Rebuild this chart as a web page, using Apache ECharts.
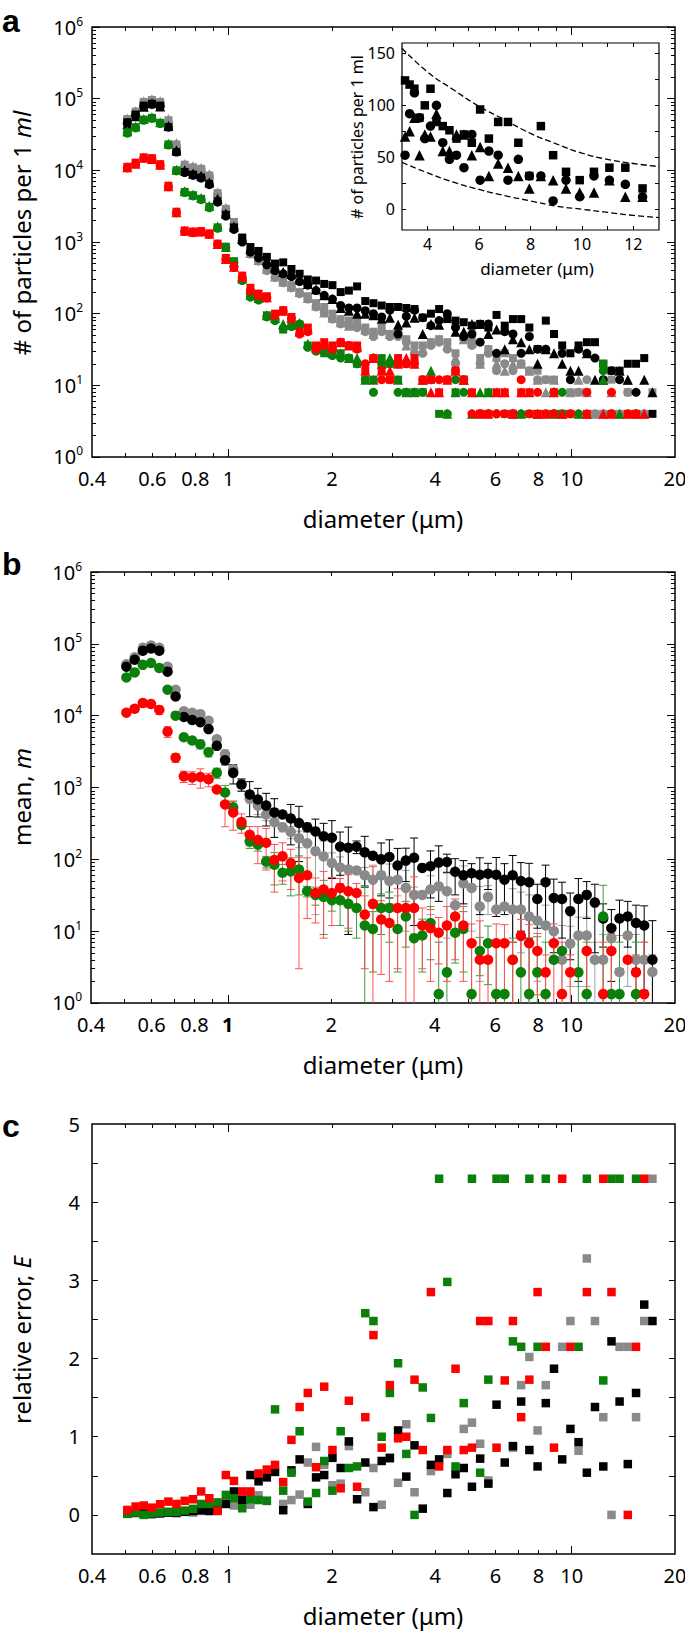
<!DOCTYPE html>
<html><head><meta charset="utf-8">
<script src="https://cdn.jsdelivr.net/npm/echarts@6/dist/echarts.min.js"></script>
<style>html,body{margin:0;padding:0;background:#fff}#c{width:685px;height:1631px}</style>
</head><body><div id="c"></div>
<script>
// ---------------- DATA ----------------
const diameters = [
 0.507,0.536,0.566,0.598,0.632,0.668,0.705,0.745,0.788,0.832,0.879,0.929,0.982,
 1.037,1.096,1.158,1.223,1.293,1.366,1.443,1.525,1.611,1.702,1.799,1.900,2.008,
 2.122,2.242,2.369,2.503,2.644,2.794,2.952,3.119,3.296,3.483,3.680,3.888,4.108,
 4.340,4.586,4.846,5.120,5.410,5.716,6.039,6.381,6.742,7.124,7.527,7.953,8.404,
 8.880,9.382,9.914,10.47,11.07,11.69,12.36,13.06,13.79,14.57,15.40,16.27,17.19];

// panel a: particles per ml, three replicates (square, circle, triangle) per sample colour
const blackSquares = [47000,60000,80000,85000,80000,40000,18000,9500,8700,8000,6500,3700,2400,
 1600,1150,850,750,620,500,520,420,360,300,290,260,250,
 200,210,240,150,140,130,124,124,120,116,88,100,116,
 84,80,76,68,72,64,96,68,84,84,64,32,80,
 52,36,28,36,40,40,20,16,16,20,20,24,4];
const blackCircles = [45000,58000,78000,83000,78000,40000,18000,9300,8500,7800,6300,3600,2300,
 1500,1000,720,600,480,400,360,330,280,250,210,180,160,
 130,120,120,110,100,90,112,52,92,112,88,68,80,
 100,64,48,52,40,72,28,56,52,28,48,32,32,
 8,28,12,32,28,24,12,16,12,null,8,null,null];
const blackTriangles = [44000,57000,77000,86000,78000,42000,19000,10000,9000,8400,6800,4000,2500,
 1650,1100,800,680,560,440,380,360,300,260,220,180,160,
 120,110,100,100,95,85,88,70,75,88,52,72,70,
 92,56,56,72,72,52,60,32,44,40,32,20,32,
 28,20,16,16,28,12,12,null,16,12,null,12,8];
const graySquares = [52000,66000,90000,96000,90000,50000,23000,12000,11000,10500,8500,4800,2900,
 1900,1150,760,600,440,340,290,250,200,175,140,124,100,
 84,80,76,64,56,64,52,56,44,36,36,40,44,
 40,28,48,44,24,32,24,28,24,20,16,16,12,
 12,4,8,8,8,4,4,12,4,8,4,4,8];
const grayCircles = [51000,64000,87000,94000,87000,47000,22000,11300,10800,10300,8300,4600,2800,
 1750,1050,680,540,400,320,270,230,190,160,124,104,84,
 72,68,64,56,48,56,48,48,40,28,28,36,40,
 32,20,44,36,20,28,16,20,16,20,16,12,12,
 8,4,4,8,12,4,4,4,null,8,4,4,null];
const grayTriangles = [53000,67000,92000,98000,92000,52000,24000,12300,11400,10800,8800,4900,3000,
 1800,1100,700,560,420,330,280,240,200,165,130,104,88,
 76,68,72,60,52,60,52,52,36,32,32,40,44,
 36,24,44,40,20,32,20,16,20,20,16,12,8,
 12,null,8,12,8,4,4,8,4,12,4,4,null];
const greenSquares = [34000,40000,51000,54000,46000,23000,10000,5000,4500,4000,3100,1600,860,
 540,300,180,160,95,85,60,68,70,36,32,28,28,
 28,24,20,12,12,24,20,12,8,8,8,12,4,
 null,8,12,null,4,8,null,4,4,null,4,4,null,
 4,4,null,null,null,null,20,null,null,null,null,null,null];
const greenCircles = [33000,39000,50000,53000,45000,22500,9800,4900,4400,3900,3000,1550,840,
 520,290,170,155,90,80,62,66,72,34,30,30,26,
 24,24,20,12,8,20,20,8,8,8,8,12,null,
 4,12,8,null,4,4,4,null,4,4,null,null,4,
 4,8,null,4,null,null,16,4,null,null,4,null,null];
const greenTriangles = [35000,41000,52000,55000,47000,23500,10200,5100,4600,4100,3200,1650,850,
 530,310,185,165,95,87,72,70,74,38,34,32,28,
 28,24,24,12,12,20,24,12,8,8,12,16,null,
 4,8,12,4,8,8,null,null,4,4,null,4,null,
 4,4,null,4,4,null,12,null,4,null,null,null,null];
const redSquares = [11200,12800,15200,14800,12200,6100,2650,1450,1400,1420,1320,950,600,
 460,340,230,190,175,100,112,90,56,64,36,40,36,
 40,36,36,16,24,16,12,24,20,24,12,12,8,
 12,16,12,8,4,4,8,8,4,8,8,4,4,
 8,null,4,null,4,null,null,4,null,4,4,null,null];
const redCircles = [10800,12300,14800,14300,11800,5900,2550,1400,1350,1380,1280,930,570,
 440,320,210,180,165,96,108,86,52,56,32,36,32,
 40,36,32,20,24,12,12,20,20,20,12,12,12,
 12,16,12,4,4,4,4,4,4,12,4,8,null,
 4,null,4,null,8,null,null,8,null,4,null,null,null];
const redTriangles = [11000,12400,15000,14400,12000,6000,2600,1440,1390,1400,1300,940,580,
 450,330,220,188,170,98,110,88,56,60,34,38,34,
 40,36,34,16,24,16,16,20,24,20,12,8,8,
 12,16,12,8,4,4,8,8,4,8,8,4,4,
 8,4,null,null,4,null,4,4,null,4,4,4,null];

// inset dashed envelope
const insetX = [3,4,5,6,7,8,9,10,11,12,13];
const upperBound = [155,132,115,99,86,73,63,54,48,44,41];
const lowerBound = [45,35,26,19,13,8,3,0,-3,-6,-8];

// panel b: mean and error
const blackMean = [48000,60000,80000,86000,80000,41000,18500,9600,8700,8100,6500,3800,2400,
 1600,1100,800,680,560,450,420,370,320,280,245,210,200,
 150,145,150,125,112,100,108,82,96,105,76,80,90,
 92,67,60,64,61,63,61,52,60,50,48,28,48,
 29,28,19,28,32,25,15,11,15,16,13,12,4];
const blackErr = [960,1800,1600,860,1600,1230,555,384,435,486,325,304,336,
 480,209,408,292,269,248,25,211,227,39,118,107,146,
 90,136,30,84,11,69,79,60,47,93,6,51,64,
 26,35,36,23,44,25,45,35,53,40,40,17,35,
 24,20,15,26,17,20,9,9,12,10,10,10.5,10];
const grayMean = [52000,65000,88000,95000,88000,48000,23000,11500,11000,10500,8500,4700,2900,
 1800,1100,700,560,420,330,280,240,196,167,130,110,89,
 77,72,70,60,52,60,50,52,40,32,32,38,42,
 36,23,46,40,22,30,20,22,20,20,16,14,12,
 10,4,6.7,8.7,8.7,4,4,8,2.7,8.7,4,4,2.7];
const grayErr = [1040,1300,2640,1900,1760,1440,460,460,330,525,510,282,435,
 216,220,91,140,76,null,39,46,51,112,113,70,34,
 31,63,null,17,31,8,36,21,30,9,null,21,null,
 28,null,35,30,20,13,null,null,19,15,16,12,11,
 null,8,5,7,7,3,5,0,6,7,5,3,2];
const greenMean = [34000,40000,51000,54000,46000,23000,10000,5000,4500,4000,3100,1600,850,
 530,300,178,160,93,84,65,68,72,36,32,30,27,
 27,24,21,12,10.7,21,21,10.7,16,8,8.7,13,1.33,
 2.67,9.5,10.7,1.33,5.3,6.8,1.33,1.33,4,2.67,1.33,2.67,1.33,
 4,5.3,null,2.67,1.33,null,16,1.33,1.33,null,1.33,null,null];
const greenErr = [442,1200,0,1080,1380,920,400,275,347,560,434,256,218,
 113,26,36,30,17,40,20,37,40,6,9,21,8,
 15,14,13,31,8,12,14,8,10,0,6,9,5.7,
 8,5.9,8,5.7,2.9,5,5.7,5.7,4,5.7,5.7,5.7,5.7,
 null,null,null,5.7,5.7,null,27.5,5.7,5.7,null,5.7,null,null];
const redMean = [11000,12500,15000,14500,12000,6000,2600,1430,1380,1400,1300,940,580,
 450,330,220,186,170,98,110,88,55,60,34,38,34,
 40,36,34,17,24,14.5,13,21,21,21,12,11,9.5,
 12,16,12,6.8,4,4,6.8,6.8,4,8.6,6.8,5.3,2.67,
 6.8,1.33,2.67,null,5.3,null,1.33,5.3,null,4,2.67,1.33,null];
const redErr = [704,1340,1800,1350,1640,1020,364,257,276,420,277,47,296,
 196,99,66,99,99,63,60,50,52,45,21,30,22,
 14,25,12,14,55,12,11,18,21,36,9,9,6,
 10,12,10,5.8,9.9,3,5.8,5.5,3,6,5.5,4,2,
 5.8,5.7,2,null,4,null,5.7,4,null,0,2,5.7,null];

// panel c: relative error E
const blackRelErr = [0.02,0.03,0.02,0.01,0.02,0.03,0.03,0.04,0.05,0.06,0.05,0.08,0.14,
 0.30,0.19,0.51,0.43,0.48,0.55,0.06,0.57,0.71,0.14,0.48,0.51,0.73,
 0.60,0.94,0.20,0.67,0.10,0.69,0.73,1.08,0.49,0.89,0.08,0.64,0.71,
 0.28,0.52,0.60,0.36,0.72,0.40,1.41,0.67,0.88,1.45,0.83,0.62,1.43,
 1.87,0.71,1.10,0.93,0.54,1.38,0.62,2.22,1.45,0.65,1.56,2.69,2.48];
const grayRelErr = [0.02,0.02,0.03,0.02,0.02,0.03,0.02,0.04,0.03,0.05,0.06,0.06,0.15,
 0.12,0.20,0.13,0.25,0.18,null,0.14,0.19,0.26,0.67,0.87,0.64,0.38,
 0.40,0.88,null,0.29,0.60,0.13,0.72,0.41,1.16,0.29,null,0.56,null,
 0.78,null,1.10,1.18,0.91,0.44,null,null,0.86,1.66,2.02,1.08,1.66,
 null,2.15,2.48,0.82,3.28,2.48,1.25,0,2.15,2.15,1.25,2.48,4.30];
const greenRelErr = [0.013,0.03,0,0.02,0.03,0.04,0.04,0.055,0.077,0.14,0.14,0.16,0.256,
 0.213,0.085,0.20,0.19,0.18,1.35,0.31,0.54,1.07,0.17,0.28,0.69,0.31,
 1.07,0.60,0.62,2.58,2.48,1.00,1.56,1.94,0.78,0,1.63,1.24,4.30,
 2.98,0.62,1.43,4.30,0.54,1.73,4.30,4.30,2.22,2.15,4.30,2.15,4.30,
 null,null,null,2.15,4.30,null,1.72,4.30,4.30,null,4.30,null,null];
const redRelErr = [0.064,0.107,0.12,0.093,0.137,0.17,0.14,0.18,0.20,0.30,0.213,0.05,0.51,
 0.435,0.30,0.30,0.53,0.58,0.64,0.42,0.96,1.38,1.56,0.61,1.64,0.83,
 0.34,1.46,0.36,1.25,2.30,0.86,1.66,0.98,1.00,1.73,0.83,2.85,0.62,
 0.83,1.87,0.83,0.86,2.48,2.48,0.86,1.72,2.48,1.25,1.73,2.85,2.15,
 0.86,4.30,2.15,null,2.85,null,4.30,2.85,null,0,2.15,4.30,null];

// tick values / labels
const xTickLabels = [0.4,0.6,0.8,1,2,4,6,8,10,20];
const xMajorTicks = [1,10];
const xMinorTicks = [0.5,0.6,0.7,0.8,0.9,2,3,4,5,6,7,8,9];
const yLogMajor = [1,10,100,1000,10000,100000,1000000];
const yLogMinorFactors = [2,3,4,5,6,7,8,9];
const cTicks = [0,0.5,1,1.5,2,2.5,3,3.5,4,4.5];
const cLabels = [0,1,2,3,4,5];
const insetXTicks = [4,5,6,7,8,9,10,11,12];
const insetXLabels = [4,6,8,10,12];
const insetYTicks = [0,25,50,75,100,125,150];
const insetYLabels = [0,50,100,150];

// ---------------- CHART ----------------
const F = "'Noto Sans', 'Open Sans', sans-serif";
const COL = {black:'#000000', gray:'#8a8a8a', green:'#0a800a', red:'#ff0000'};
const BAR = {black:'#000000', gray:'#a0a0a0', green:'#3d9a3d', red:'#ff5050'};
const yLogMinor = [];
yLogMajor.slice(0, -1).forEach(p => yLogMinorFactors.forEach(f => yLogMinor.push(f * p)));
const clampX = v => Math.min(Math.max(v, 0.40001), 19.9999);
const clampY = v => Math.min(Math.max(v, 1.0001), 999990);

const xAxis = [], yAxis = [];
const add = (list, o) => { list.push(o); return list.length - 1; };
const tickLine = {color:'#000', width:1};
const NOLINE = {show:false, onZero:false};

function logX(g, boldOne) {
  const base = {type:'log', logBase:10, min:0.4, max:20, gridIndex:g,
    axisLine:NOLINE, splitLine:{show:false}, axisPointer:{show:false}};
  const main = add(xAxis, Object.assign({}, base, {position:'bottom',
    axisTick:{show:true, inside:true, length:8, customValues:xMajorTicks, lineStyle:tickLine},
    axisLabel:{show:true, customValues:xTickLabels.map(clampX), margin:11, color:'#000',
      fontSize:20, fontFamily:F,
      formatter: v => { const s = String(parseFloat(v.toPrecision(2))); return (boldOne && s === '1') ? '{bd|1}' : s; },
      rich:{bd:{fontWeight:'bold', fontSize:20, fontFamily:F, color:'#000'}}}}));
  add(xAxis, Object.assign({}, base, {position:'bottom',
    axisTick:{show:true, inside:true, length:4, customValues:xMinorTicks, lineStyle:tickLine}, axisLabel:{show:false}}));
  add(xAxis, Object.assign({}, base, {position:'top',
    axisTick:{show:true, inside:true, length:8, customValues:xMajorTicks, lineStyle:tickLine}, axisLabel:{show:false}}));
  add(xAxis, Object.assign({}, base, {position:'top',
    axisTick:{show:true, inside:true, length:4, customValues:xMinorTicks, lineStyle:tickLine}, axisLabel:{show:false}}));
  return main;
}
function logY(g) {
  const base = {type:'log', logBase:10, min:1, max:1e6, gridIndex:g,
    axisLine:NOLINE, splitLine:{show:false}, axisPointer:{show:false}};
  const main = add(yAxis, Object.assign({}, base, {position:'left',
    axisTick:{show:true, inside:true, length:8, customValues:yLogMajor, lineStyle:tickLine},
    axisLabel:{show:true, customValues:yLogMajor.map(clampY), margin:9,
      formatter: v => '{b|10}{s|' + Math.round(Math.log10(v)) + '}',
      rich:{b:{fontSize:20, lineHeight:24, fontFamily:F, color:'#000'},
            s:{fontSize:12, lineHeight:12, verticalAlign:'top', fontFamily:F, color:'#000'}}}}));
  add(yAxis, Object.assign({}, base, {position:'left',
    axisTick:{show:true, inside:true, length:4, customValues:yLogMinor, lineStyle:tickLine}, axisLabel:{show:false}}));
  add(yAxis, Object.assign({}, base, {position:'right',
    axisTick:{show:true, inside:true, length:8, customValues:yLogMajor, lineStyle:tickLine}, axisLabel:{show:false}}));
  add(yAxis, Object.assign({}, base, {position:'right',
    axisTick:{show:true, inside:true, length:4, customValues:yLogMinor, lineStyle:tickLine}, axisLabel:{show:false}}));
  return main;
}
function linY(g) {
  const base = {type:'value', min:-0.5, max:5, gridIndex:g,
    axisLine:NOLINE, splitLine:{show:false}, axisPointer:{show:false}};
  const main = add(yAxis, Object.assign({}, base, {position:'left',
    axisTick:{show:true, inside:true, length:6, customValues:cTicks, lineStyle:tickLine},
    axisLabel:{show:true, customValues:cLabels, margin:12, fontSize:20, fontFamily:F, color:'#000'}}));
  add(yAxis, Object.assign({}, base, {position:'right',
    axisTick:{show:true, inside:true, length:6, customValues:cTicks, lineStyle:tickLine}, axisLabel:{show:false}}));
  return main;
}

const grids = [
  {left:92, top:27, width:583, height:430},
  {left:91, top:572, width:584, height:431},
  {left:92, top:1124, width:583, height:430},
  {left:402, top:43, width:257, height:187}
].map((g, i) => Object.assign(g, {show:true, borderColor:'#000', borderWidth: i === 3 ? 1.2 : 1.5,
  backgroundColor:'rgba(0,0,0,0)', containLabel:false, outerBoundsMode:'none'}));

const xa = logX(0, false), ya = logY(0);
const xb = logX(1, true), yb = logY(1);
const xc = logX(2, false), yc = linY(2);

// inset axes
const insetBase = {type:'value', gridIndex:3, axisLine:NOLINE, splitLine:{show:false}, axisPointer:{show:false}};
const xi = add(xAxis, Object.assign({}, insetBase, {min:3, max:13, position:'bottom',
  axisTick:{show:true, inside:true, length:4, customValues:insetXTicks, lineStyle:tickLine},
  axisLabel:{show:true, customValues:insetXLabels, margin:6, fontSize:16, fontFamily:F, color:'#000'}}));
add(xAxis, Object.assign({}, insetBase, {min:3, max:13, position:'top',
  axisTick:{show:true, inside:true, length:4, customValues:insetXTicks, lineStyle:tickLine}, axisLabel:{show:false}}));
const yi = add(yAxis, Object.assign({}, insetBase, {min:-20, max:160, position:'left',
  axisTick:{show:true, inside:true, length:4, customValues:insetYTicks, lineStyle:tickLine},
  axisLabel:{show:true, customValues:insetYLabels, margin:7, fontSize:16, fontFamily:F, color:'#000'}}));
add(yAxis, Object.assign({}, insetBase, {min:-20, max:160, position:'right',
  axisTick:{show:true, inside:true, length:4, customValues:insetYTicks, lineStyle:tickLine}, axisLabel:{show:false}}));

function pts(arr) { const out = []; arr.forEach((v, i) => { if (v != null) out.push([diameters[i], v]); }); return out; }
function scatter(x, y, arr, symbol, size, color) {
  return {type:'scatter', xAxisIndex:x, yAxisIndex:y, data:pts(arr), symbol, symbolSize:size,
    itemStyle:{color, opacity:1}, silent:true, clip:true, animation:false};
}
function errorBars(x, y, mean, err, color) {
  const data = [];
  mean.forEach((m, i) => {
    const e = err[i];
    if (m == null || e == null || !(e > 0)) return;
    const lo = m - e;
    data.push([diameters[i], lo > 1 ? lo : 1, m + e, lo > 1 ? 1 : 0]);
  });
  return {type:'custom', xAxisIndex:x, yAxisIndex:y, data, clip:true, silent:true, animation:false,
    encode:{x:0, y:[1, 2]},
    renderItem: (params, api) => {
      const xv = api.value(0);
      const t = api.coord([xv, api.value(2)]), b = api.coord([xv, api.value(1)]);
      const w = 4, st = {stroke:color, lineWidth:1, fill:null};
      const ch = [
        {type:'line', shape:{x1:t[0], y1:t[1], x2:b[0], y2:b[1]}, style:st},
        {type:'line', shape:{x1:t[0]-w, y1:t[1], x2:t[0]+w, y2:t[1]}, style:st}];
      if (api.value(3)) ch.push({type:'line', shape:{x1:b[0]-w, y1:b[1], x2:b[0]+w, y2:b[1]}, style:st});
      return {type:'group', children:ch};
    }};
}

const series = [];
const groupsA = [
  ['gray', graySquares, grayCircles, grayTriangles],
  ['black', blackSquares, blackCircles, blackTriangles],
  ['green', greenSquares, greenCircles, greenTriangles],
  ['red', redSquares, redCircles, redTriangles]];
groupsA.forEach(([c, s, ci, t]) => {
  series.push(scatter(xa, ya, s, 'rect', 8, COL[c]));
  series.push(scatter(xa, ya, ci, 'circle', 9, COL[c]));
  series.push(scatter(xa, ya, t, 'triangle', 10, COL[c]));
});
// inset (black sample, linear scale)
series.push(scatter(xi, yi, blackSquares, 'rect', 8.5, '#000'));
series.push(scatter(xi, yi, blackCircles, 'circle', 9.5, '#000'));
series.push(scatter(xi, yi, blackTriangles, 'triangle', 10.5, '#000'));
[upperBound, lowerBound].forEach(arr => series.push({type:'line', xAxisIndex:xi, yAxisIndex:yi,
  data: insetX.map((x, i) => [x, arr[i]]), smooth:true, symbol:'none', showSymbol:false, silent:true,
  clip:true, animation:false, lineStyle:{color:'#000', width:1.3, type:[6, 3]}}));

// panel b
[['gray', grayMean, grayErr], ['black', blackMean, blackErr], ['green', greenMean, greenErr], ['red', redMean, redErr]]
  .forEach(([c, m, e]) => {
    series.push(scatter(xb, yb, m, 'circle', 10.5, COL[c]));
    series.push(errorBars(xb, yb, m, e, BAR[c]));
  });

// panel c
[['gray', grayRelErr], ['black', blackRelErr], ['green', greenRelErr], ['red', redRelErr]]
  .forEach(([c, r]) => series.push(scatter(xc, yc, r, 'rect', 8.5, COL[c])));

const T = (x, y, text, size, extra) => Object.assign({type:'text', x, y, silent:true,
  style:Object.assign({text, fontSize:size, fontFamily:F, fill:'#000', align:'center', verticalAlign:'middle'}, extra || {})});
const richTitle = (x, y, plain, ital, size, rot) => ({type:'text', x, y, rotation: rot ? Math.PI / 2 : 0, silent:true,
  style:{text:'{n|' + plain + '}{i|' + ital + '}', align:'center', verticalAlign:'middle', fill:'#000',
    rich:{n:{fontSize:size, fontFamily:F, fill:'#000'}, i:{fontSize:size, fontFamily:F, fontStyle:'italic', fill:'#000'}}}});
const LETTER = "'Liberation Sans', Arial, sans-serif";

const option = {
  animation:false,
  backgroundColor:'#ffffff',
  grid: grids,
  xAxis, yAxis, series,
  graphic: [
    T(2, 21, 'a', 32, {fontWeight:'bold', fontFamily:LETTER, align:'left'}),
    T(2, 564, 'b', 32, {fontWeight:'bold', fontFamily:LETTER, align:'left'}),
    T(2, 1126, 'c', 32, {fontWeight:'bold', fontFamily:LETTER, align:'left'}),
    richTitle(21, 233, '# of particles per 1 ', 'ml', 24, true),
    richTitle(21, 797, 'mean, ', 'm', 24, true),
    richTitle(21, 1340, 'relative error, ', 'E', 24, true),
    T(383, 518, 'diameter (μm)', 24),
    T(383, 1064, 'diameter (μm)', 24),
    T(383, 1615, 'diameter (μm)', 24),
    T(357, 137, '# of particles per 1 ml', 16, {}),
    T(537, 268, 'diameter (μm)', 17)
  ]
};
// rotate inset y title
option.graphic[9].rotation = Math.PI / 2;

const chart = echarts.init(document.getElementById('c'), null, {renderer:'svg', width:685, height:1631});
chart.setOption(option);
</script>
</body></html>
